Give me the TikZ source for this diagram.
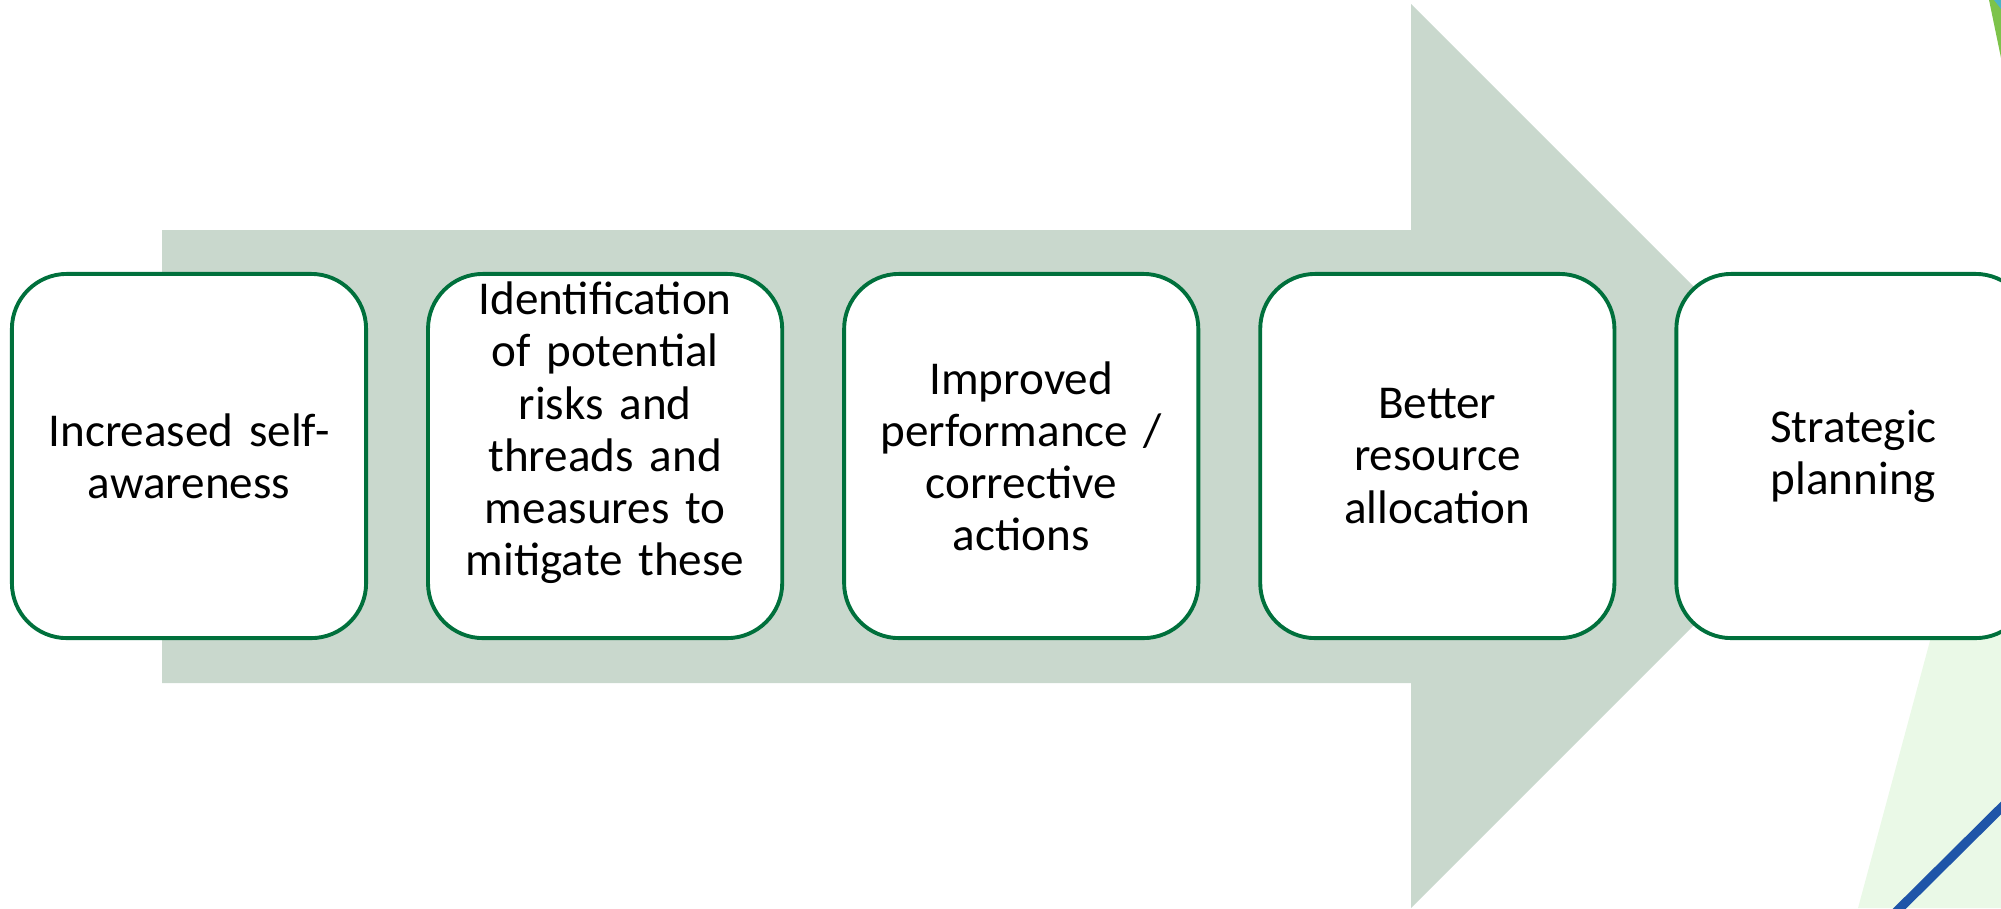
\documentclass[tikz,border=0pt]{standalone}
\usepackage{fontspec}
\setmainfont{Carlito}
\usepackage{tikz}
\usetikzlibrary{positioning}

\definecolor{arrowgrey}{HTML}{C9D8CD}
\definecolor{boxgreen}{HTML}{00703C}
\definecolor{leafgreen}{HTML}{7DC34A}
\definecolor{leafteal}{HTML}{4BB3C8}
\definecolor{palegreen}{HTML}{EAF9E7}
\definecolor{lineblue}{HTML}{1F55A8}

\begin{document}
\begin{tikzpicture}[x=0.01cm, y=-0.01cm,
    stepbox/.style={draw=boxgreen, line width=1.1pt, fill=white, rounded corners=0.55cm,
        minimum width=3.54cm, minimum height=3.64cm, inner sep=0pt,
        text width=3.3cm, align=center,
        font=\fontsize{13.4pt}{14.8pt}\selectfont},
    gap/.style={right=0.58cm of #1}]

    \useasboundingbox (0,0) rectangle (2001,908);
    \clip (0,0) rectangle (2001,908);

    % big arrow in the back
    \fill[arrowgrey] (162,230) -- (1411,230) -- (1411,4) -- (1863,456)
        -- (1411,908) -- (1411,683) -- (162,683) -- cycle;

    % leaves at the right edge
    \fill[palegreen] (1858,908) -- (2001,377) -- (2001,908) -- cycle;
    \draw[lineblue, line width=2.6pt] (1890,918) -- (2011,798);
    \fill[leafgreen] (1989,0) -- (2001,0) -- (2001,58) -- cycle;
    \fill[leafteal] (1994,0) -- (2001,0) -- (2001,9) -- cycle;

    \node[stepbox] (aware) at (189,456) {Increased self-\\awareness};
    \node[stepbox, gap=aware, text height=0.33cm, text depth=3.15cm] (risks)
        {Identification\\of potential\\risks and\\threads and\\measures to\\mitigate these};
    \node[stepbox, gap=risks] (perform) {Improved\\performance /\\corrective\\actions};
    \node[stepbox, gap=perform] (resource) {Better\\resource\\allocation};
    \node[stepbox, gap=resource] (plan) {Strategic\\planning};

\end{tikzpicture}
\end{document}
